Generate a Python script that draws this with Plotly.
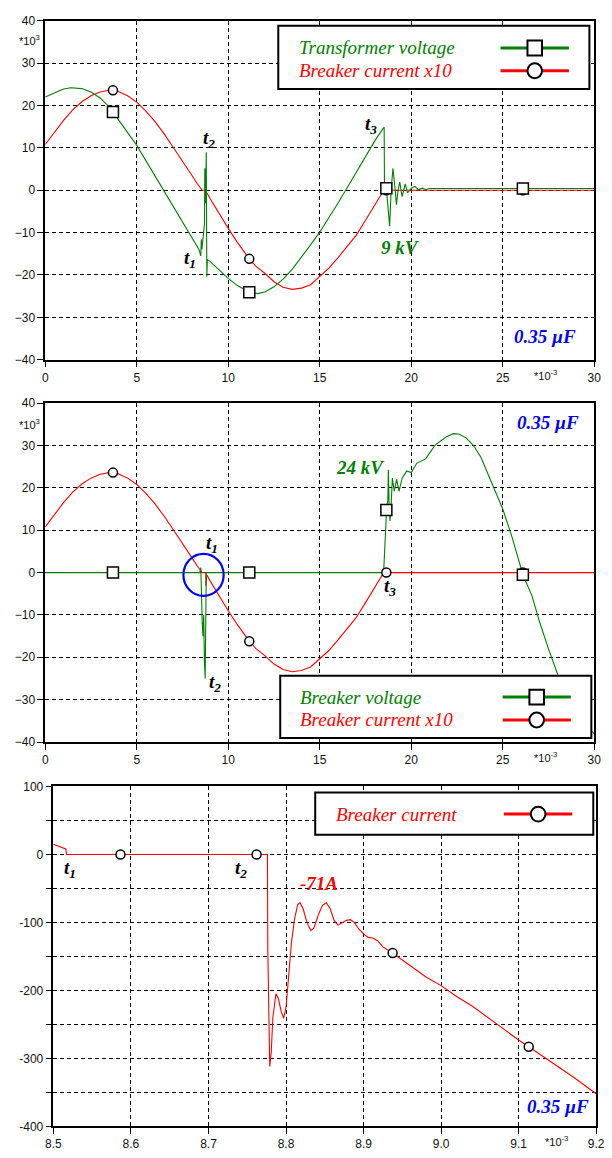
import plotly.graph_objects as go

W, H = 612, 1158

# ---------------- data ----------------
# Panel 1: transformer voltage (x10^3 V) vs time (ms)
tv_t = [0, 0.5, 1.0, 1.4, 2.0, 2.5, 3.0, 3.5, 3.7, 4.0, 4.5, 5.0, 5.5, 6.0, 6.5, 7.0, 7.5, 8.0, 8.4,
        8.50, 8.53, 8.56, 8.62, 8.70, 8.72, 8.76, 8.80, 8.83, 8.86, 8.90,
        9.0, 9.5, 10.0, 10.5, 11.0, 11.15, 11.6, 12.0, 12.5, 13.0, 13.5, 14.0, 14.5, 15.0, 15.5,
        16.0, 16.5, 17.0, 17.5, 18.0, 18.4, 18.52, 18.54, 18.60, 18.64, 18.72, 18.82, 18.90, 19.0,
        19.1, 19.19, 19.28, 19.37, 19.5, 19.67, 19.8, 20.0, 20.2, 20.4, 20.6, 20.8, 21.0, 30.0]
tv_v = [22.0, 23.0, 23.9, 24.2, 24.0, 23.2, 21.8, 19.7, 18.5, 16.9, 13.9, 10.6, 7.0, 3.4, -0.3, -3.6, -7.4, -11.0, -14.0,
        -15.5, -11.6, -14.0, -12.0, -8.0, 5.2, -3.0, 9.0, -20.4, -16.3, -16.5,
        -16.8, -18.8, -20.8, -22.5, -23.8, -24.1, -24.4, -24.0, -22.8, -21.0, -18.6, -15.8, -12.9, -9.9, -6.6,
        -3.0, 0.6, 4.3, 8.0, 11.6, 14.2, 14.9, -1.0, 1.5, 0.5, -4.0, -8.5, 0.0, 5.2,
        1.0, -3.4, 0.0, 2.0, -1.5, 1.5, -0.6, 0.5, 0.9, 0.1, 0.5, 0.2, 0.4, 0.4]

# Breaker current x10 (x10^3) vs time (ms), shared by panels 1 and 2
cur_t = [0, 0.5, 1.0, 1.5, 2.0, 2.5, 3.0, 3.5, 3.7, 4.0, 4.5, 5.0, 5.5, 6.0, 6.5, 7.0, 7.5, 8.0, 8.3,
         8.58, 8.776, 8.779, 8.787, 8.797, 8.818, 8.85, 9.0, 9.5, 10.0, 10.5, 11.0, 11.5, 12.0, 12.5,
         13.0, 13.5, 14.0, 14.5, 15.0, 15.5, 16.0, 16.5, 17.0, 17.5, 18.0, 18.3, 18.5, 30.0]
cur_v = [10.8, 13.8, 16.5, 19.0, 20.9, 22.3, 23.2, 23.6, 23.6, 23.3, 22.3, 20.8, 18.7, 16.2, 13.3, 10.1, 6.7, 3.6, 1.6,
         0.0, 0.0, -3.1, -2.05, -2.4, -0.7, -0.7, -1.9, -5.5, -9.0, -12.3, -15.3, -17.9, -19.6, -21.6,
         -22.9, -23.4, -23.1, -22.3, -20.3, -18.4, -15.9, -13.2, -10.6, -7.1, -3.6, -1.5, 0.0, 0.0]

# Panel 2: breaker voltage (x10^3)
bv_t = [0, 8.45, 8.50, 8.52, 8.55, 8.58, 8.62, 8.66, 8.70, 8.74, 8.78, 8.80, 18.49,
        18.60, 18.66, 18.72, 18.75, 18.79, 18.84, 18.90, 18.97, 19.07, 19.20, 19.33, 19.50,
        19.75, 20.0, 20.3, 20.8, 21.3, 21.9, 22.3, 22.6, 23.0, 23.4, 23.8,
        24.2, 24.6, 25.0, 25.5, 26.0, 26.1, 26.6, 27.0, 27.5, 28.0, 28.5, 29.0, 29.5, 30.0]
bv_v = [0, 0, 1.2, -3.0, -3.5, -12.0, -15.0, -10.0, -21.0, -25.0, -8.0, 0, 0,
        12.0, 15.5, 17.0, 24.3, 16.0, 12.2, 16.0, 22.3, 19.2, 22.0, 19.2, 22.3,
        24.0, 23.6, 25.8, 26.9, 30.1, 32.0, 32.8, 32.7, 31.8, 30.0, 27.3,
        23.2, 19.0, 15.0, 8.5, 1.2, -0.5, -5.5, -11.5, -18.0, -24.0, -29.0, -33.0, -36.0, -38.0]

# Panel 3: breaker current (A) vs time (ms)
bc_t = [8.500, 8.510, 8.516, 8.517, 8.776, 8.7765, 8.779, 8.781, 8.783, 8.787, 8.790, 8.794, 8.797,
        8.800, 8.803, 8.807, 8.811, 8.815, 8.818, 8.822, 8.827, 8.832, 8.836, 8.842, 8.847, 8.852,
        8.857, 8.862, 8.867, 8.872, 8.878, 8.883, 8.888, 8.894, 8.900, 8.906, 8.912, 8.918, 8.925,
        8.9375, 8.960, 8.980, 9.000, 9.020, 9.040, 9.060, 9.080, 9.100, 9.113, 9.140, 9.170, 9.200]
bc_v = [15, 11, 8, 0, 0, -140, -312, -290, -240, -205, -212, -232, -241,
        -225, -180, -130, -95, -74, -71, -80, -100, -112, -108, -88, -75, -71,
        -80, -97, -104, -101, -97, -96, -100, -110, -117, -122, -123, -127, -136,
        -145, -164, -180, -193, -209, -223, -240, -256, -273, -283, -304, -327, -352]

# marker positions
mk_t = [3.7, 11.15, 18.64, 26.1]
mk_tv = [18.5, -24.1, 0.5, 0.4]
mk_cur = [23.6, -16.2, 0.0, 0.0]
mk_bv = [0.0, 0.0, 14.8, -0.5]
mk_bc_t = [8.5865, 8.762, 8.9375, 9.113]
mk_bc_v = [0, 0, -145, -283]

# tick labels
x12_ticks = [0, 5, 10, 15, 20, 25, 30]
y12_ticks = [-40, -30, -20, -10, 0, 10, 20, 30, 40]
x3_ticks = [8.5, 8.6, 8.7, 8.8, 8.9, 9.0, 9.1, 9.2]
x3_text = ["8.5", "8.6", "8.7", "8.8", "8.9", "9.0", "9.1", "9.2"]
y3_ticks = [-400, -350, -300, -250, -200, -150, -100, -50, 0, 50, 100]
y3_text = ["-400", "", "-300", "", "-200", "", "-100", "", "0", "", "100"]

legend1 = ["Transformer voltage", "Breaker current x10"]
legend2 = ["Breaker voltage", "Breaker current x10"]
legend3 = ["Breaker current"]

# ---------------- styling ----------------
GREEN = "#008000"
RED = "#ff0000"
BLUE = "#0000ff"
SERIF = "Liberation Serif"
SANS = "Liberation Sans"


def px(x):
    return x / W


def py(y):
    return 1 - y / H


fig = go.Figure()


def line(x, y, color, xa, ya, width=1.1):
    fig.add_trace(go.Scatter(x=x, y=y, mode="lines", line=dict(color=color, width=width),
                             xaxis=xa, yaxis=ya, showlegend=False, hoverinfo="skip"))


def marks(x, y, symbol, size, xa, ya):
    fig.add_trace(go.Scatter(x=x, y=y, mode="markers",
                             marker=dict(symbol=symbol, size=size, color="white",
                                         line=dict(color="black", width=1.5)),
                             xaxis=xa, yaxis=ya, showlegend=False, hoverinfo="skip"))


# panel 1
line(cur_t, cur_v, RED, "x", "y")
line(tv_t, tv_v, GREEN, "x", "y")
marks(mk_t, mk_cur, "circle", 9, "x", "y")
marks(mk_t, mk_tv, "square", 11, "x", "y")
# panel 2
line(cur_t, cur_v, RED, "x2", "y2")
line(bv_t, bv_v, GREEN, "x2", "y2")
marks(mk_t, mk_cur, "circle", 9, "x2", "y2")
marks(mk_t, mk_bv, "square", 11, "x2", "y2")
# panel 3
line(bc_t, bc_v, RED, "x3", "y3")
marks(mk_bc_t, mk_bc_v, "circle", 9, "x3", "y3")

axis_common = dict(showline=True, linecolor="black", linewidth=1.5, mirror=True,
                   ticks="outside", ticklen=6, tickwidth=1, tickcolor="black",
                   showgrid=True, gridcolor="black", gridwidth=1, griddash="4px,3px",
                   zeroline=False, tickfont=dict(family=SANS, size=12, color="#111111"),
                   fixedrange=True)

xd12 = [px(38.3), px(603)]
xd3 = [px(46.7), px(605)]

fig.update_layout(
    width=W, height=H, margin=dict(l=0, r=0, t=0, b=0),
    paper_bgcolor="white", plot_bgcolor="white", showlegend=False,
    xaxis=dict(domain=xd12, range=[0, 30], anchor="y", tickvals=x12_ticks, **axis_common),
    yaxis=dict(domain=[py(357), py(14)], range=[-40, 40], anchor="x", tickvals=y12_ticks, **axis_common),
    xaxis2=dict(domain=xd12, range=[0, 30], anchor="y2", tickvals=x12_ticks, **axis_common),
    yaxis2=dict(domain=[py(744), py(401)], range=[-40, 40], anchor="x2", tickvals=y12_ticks, **axis_common),
    xaxis3=dict(domain=xd3, range=[8.5, 9.2], anchor="y3", tickvals=x3_ticks, ticktext=x3_text, **axis_common),
    yaxis3=dict(domain=[py(1133), py(789)], range=[-400, 100], anchor="x3", tickvals=y3_ticks,
                ticktext=y3_text, **axis_common),
)

shapes = []
annots = []


def legend_box(x0, y0, x1, y1, rows, colors, symbols, text_x, icon_x0, icon_x1, icon_xc):
    shapes.append(dict(type="rect", xref="paper", yref="paper", x0=px(x0), x1=px(x1), y0=py(y1), y1=py(y0),
                       line=dict(color="black", width=2), fillcolor="white", layer="above"))
    for (label, yc), col, sym in zip(rows, colors, symbols):
        annots.append(dict(xref="paper", yref="paper", x=px(text_x), y=py(yc), xanchor="left", yanchor="middle",
                           text="<i>%s</i>" % label, showarrow=False,
                           font=dict(family=SERIF, size=19, color=col)))
        shapes.append(dict(type="line", xref="paper", yref="paper", x0=px(icon_x0), x1=px(icon_x1),
                           y0=py(yc), y1=py(yc), line=dict(color=col, width=3), layer="above"))
        s = 7.5
        shapes.append(dict(type="rect" if sym == "square" else "circle", xref="paper", yref="paper",
                           x0=px(icon_xc - s), x1=px(icon_xc + s), y0=py(yc + s), y1=py(yc - s),
                           line=dict(color="black", width=2), fillcolor="white", layer="above"))


legend_box(278, 19, 598, 83, [(legend1[0], 41.5), (legend1[1], 64.5)], [GREEN, RED], ["square", "circle"],
           297.7, 506.6, 576.9, 541.8)
legend_box(280, 677, 600, 740, [(legend2[0], 698.5), (legend2[1], 721.7)], [GREEN, RED], ["square", "circle"],
           298.5, 508.8, 578.9, 543.8)
legend_box(316, 795, 602, 838, [(legend3[0], 817)], [RED], ["circle"], 334.8, 510, 580.4, 545.3)

# blue circle highlighting t1 in panel 2
shapes.append(dict(type="circle", xref="x2", yref="y2", x0=7.55, x1=9.75, y0=-5.5, y1=4.4,
                   line=dict(color=BLUE, width=2.2), layer="above"))


def note(text, x, y, xa, ya, color="black", size=19):
    annots.append(dict(xref=xa, yref=ya, x=x, y=y, text="<b><i>%s</i></b>" % text, showarrow=False,
                       xanchor="center", yanchor="middle", font=dict(family=SERIF, size=size, color=color)))


def tlabel(n, x, y, xa, ya):
    annots.append(dict(xref=xa, yref=ya, x=x, y=y, text="<b><i>t<sub>%s</sub></i></b>" % n, showarrow=False,
                       xanchor="center", yanchor="middle", font=dict(family=SERIF, size=19, color="black")))


# panel 1 notes
tlabel("2", 8.95, 12.0, "x", "y")
tlabel("1", 7.9, -16.3, "x", "y")
tlabel("3", 17.8, 15.3, "x", "y")
note("9 kV", 19.4, -13.4, "x", "y", GREEN)
note("0.35 µF", 27.3, -34.5, "x", "y", BLUE)
# panel 2 notes
note("0.35 µF", 27.5, 35.5, "x2", "y2", BLUE)
note("24 kV", 17.2, 24.8, "x2", "y2", GREEN)
tlabel("1", 9.1, 6.8, "x2", "y2")
tlabel("2", 9.3, -26.0, "x2", "y2")
tlabel("3", 18.85, -3.4, "x2", "y2")
# panel 3 notes
tlabel("1", 8.521, -22, "x3", "y3")
tlabel("2", 8.742, -22, "x3", "y3")
note("-71A", 8.843, -42.5, "x3", "y3", RED)
note("0.35 µF", 9.151, -371, "x3", "y3", BLUE)

# scale factor labels
for yc in (33, 421.7):
    annots.append(dict(xref="paper", yref="paper", x=px(22), y=py(yc), text="*10<sup>3</sup>", showarrow=False,
                       xanchor="center", yanchor="middle", font=dict(family=SANS, size=11, color="#111111")))
for xc, yc in ((553, 372.5), (553, 759.5), (564, 1148)):
    annots.append(dict(xref="paper", yref="paper", x=px(xc), y=py(yc), text="*10<sup>-3</sup>", showarrow=False,
                       xanchor="center", yanchor="middle", font=dict(family=SANS, size=11, color="#111111")))

fig.update_layout(shapes=shapes, annotations=annots)
fig.write_html("out.html")
